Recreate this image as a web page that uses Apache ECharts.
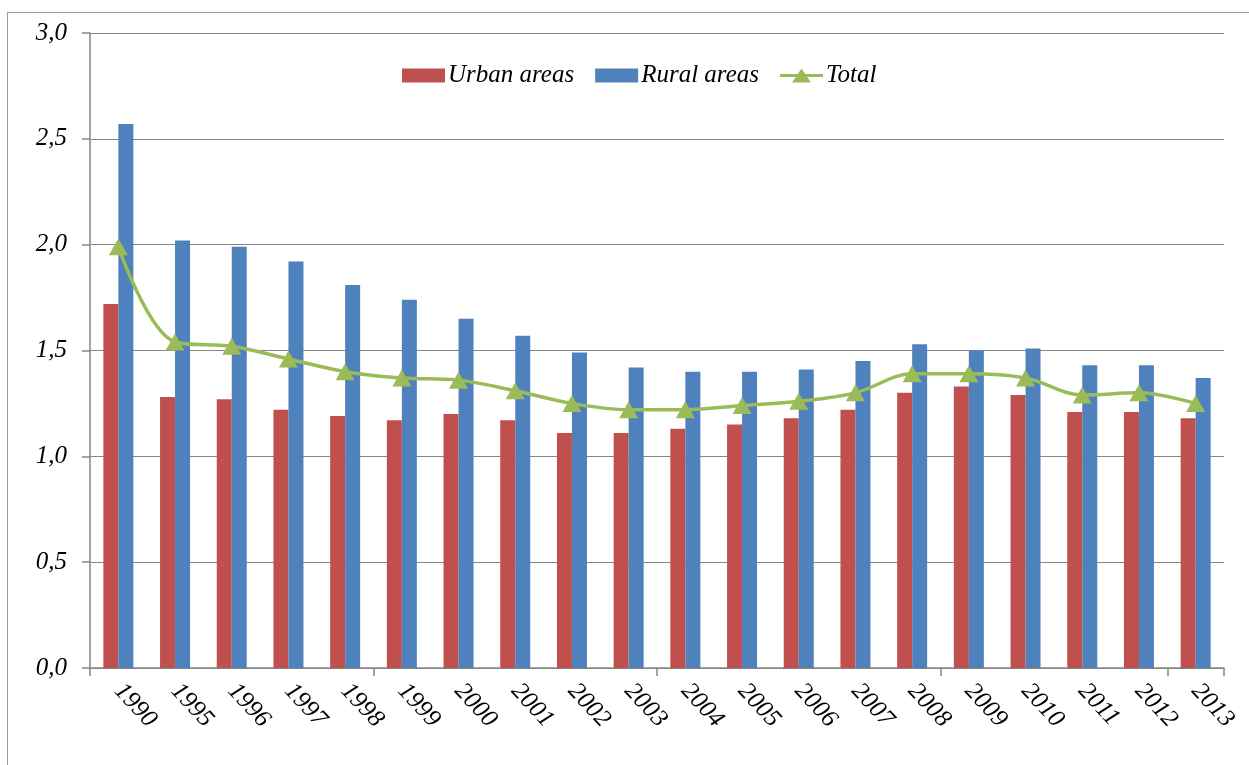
<!DOCTYPE html>
<html>
<head>
<meta charset="utf-8">
<script src="https://cdn.jsdelivr.net/npm/echarts@6/dist/echarts.min.js"></script>
<style>html,body{margin:0;padding:0;background:#fff}#c{width:1249px;height:765px}</style>
</head>
<body>
<div id="c"></div>
<script>
const years = ['1990','1995','1996','1997','1998','1999','2000','2001','2002','2003','2004','2005','2006','2007','2008','2009','2010','2011','2012','2013'];
const urban = [1.72,1.28,1.27,1.22,1.19,1.17,1.20,1.17,1.11,1.11,1.13,1.15,1.18,1.22,1.30,1.33,1.29,1.21,1.21,1.18];
const rural = [2.57,2.02,1.99,1.92,1.81,1.74,1.65,1.57,1.49,1.42,1.40,1.40,1.41,1.45,1.53,1.50,1.51,1.43,1.43,1.37];
const total = [1.99,1.54,1.52,1.46,1.40,1.37,1.36,1.31,1.25,1.22,1.22,1.24,1.26,1.30,1.39,1.39,1.37,1.29,1.30,1.25];

const font = 'Liberation Serif';
const lineIcon = 'path://M0,5.5 L17.77,5.5 L21.5,0 L25.23,5.5 L43,5.5 L43,8.5 L27.27,8.5 L31,14 L12,14 L15.73,8.5 L0,8.5 Z';
const chart = echarts.init(document.getElementById('c'), null, {renderer:'canvas'});
chart.setOption({
  animation:false,
  backgroundColor:'#fff',
  graphic:[{type:'rect', shape:{x:7.5,y:12.5,width:1400,height:900}, style:{fill:'none',stroke:'#9a9a9a',lineWidth:1}, silent:true, z:-1}],
  legend:{
    left:397, top:58, itemWidth:43, itemHeight:14, itemGap:21,
    textStyle:{fontFamily:font, fontStyle:'italic', fontSize:25, color:'#000', padding:[0,0,0,-2]},
    data:[
      {name:'Urban areas', icon:'rect'},
      {name:'Rural areas', icon:'rect'},
      {name:'Total', icon:lineIcon, itemStyle:{color:'#9BBB59'}}
    ]
  },
  grid:{left:90,right:25,top:33,bottom:97,containLabel:false},
  xAxis:{
    type:'category', data:years, boundaryGap:true,
    axisLine:{lineStyle:{color:'#868686',width:1.5}},
    axisTick:{show:true, interval:4, length:8, inside:false, lineStyle:{color:'#868686',width:1.5}},
    axisLabel:{interval:0, rotate:-47, margin:19, fontFamily:font, fontStyle:'italic', fontSize:25, color:'#000'}
  },
  yAxis:{
    type:'value', min:0, max:3, interval:0.5,
    axisLine:{show:true, lineStyle:{color:'#868686',width:1.5}},
    axisTick:{show:true, length:8, lineStyle:{color:'#868686',width:1.5}},
    splitLine:{lineStyle:{color:'#868686',width:1.2}},
    axisLabel:{margin:23, fontFamily:font, fontStyle:'italic', fontSize:25, color:'#000',
      formatter:v=>v.toFixed(1).replace('.',',')}
  },
  series:[
    {name:'Urban areas', type:'bar', data:urban, barWidth:15, barGap:'0%', itemStyle:{color:'#C0504D'}},
    {name:'Rural areas', type:'bar', data:rural, barWidth:15, barGap:'0%', itemStyle:{color:'#4F81BD'}},
    {name:'Total', type:'line', data:total, smooth:0.35, symbol:'triangle', symbolSize:[19,17], showAllSymbol:true,
      lineStyle:{color:'#9BBB59',width:3.5}, itemStyle:{color:'#9BBB59'}, z:5}
  ]
});
</script>
</body>
</html>
